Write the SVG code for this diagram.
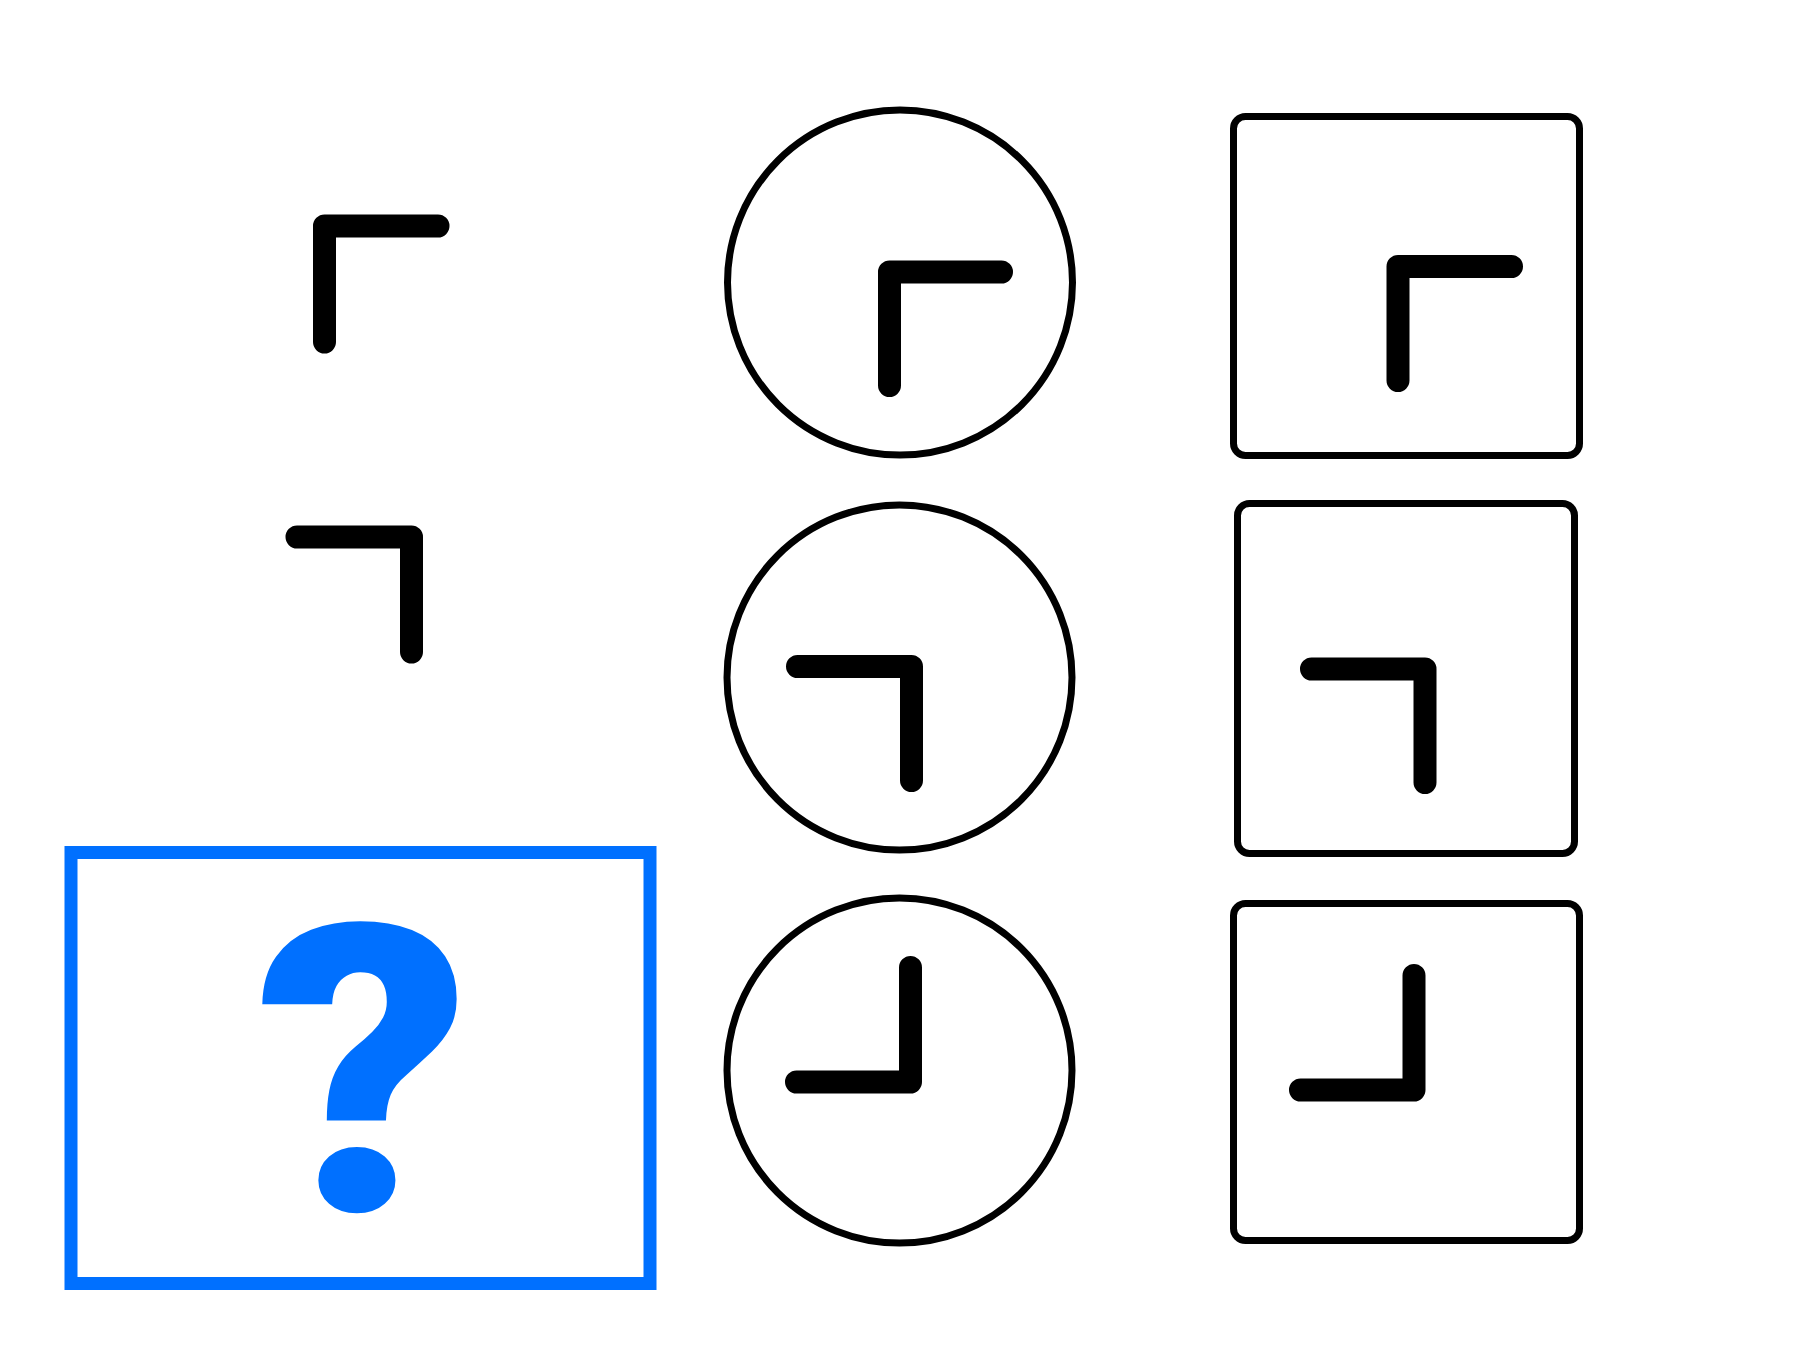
<svg xmlns="http://www.w3.org/2000/svg" width="1804" height="1352" viewBox="0 0 1804 1352">
  <style>
    .frame { fill: #ffffff; stroke: #000000; stroke-width: 7; }
    .hand { fill: none; stroke: #000000; stroke-width: 23; stroke-linecap: round; stroke-linejoin: round; }
    .answer { fill: #ffffff; stroke: #0070ff; stroke-width: 13; }
    .qmark { fill: #0070ff; font-family: Roboto, "Liberation Sans", sans-serif; font-weight: 900; font-size: 402px; }
  </style>
  <rect x="0" y="0" width="1804" height="1352" fill="#ffffff"/>

  <g id="connectors"></g>

  <!-- Row 1 -->
  <g id="r1c1">
    <path class="hand" d="M 324.5 342 L 324.5 226 L 438 226"/>
  </g>
  <g id="r1c2">
    <circle class="frame" cx="900" cy="282.5" r="172.5"/>
    <path class="hand" d="M 889.5 385.5 L 889.5 272 L 1001.5 272"/>
  </g>
  <g id="r1c3">
    <rect class="frame" x="1233.5" y="116.5" width="346" height="339" rx="12"/>
    <path class="hand" d="M 1398 380.5 L 1398 266.5 L 1511.5 266.5"/>
  </g>

  <!-- Row 2 -->
  <g id="r2c1">
    <path class="hand" d="M 297 537 L 411.5 537 L 411.5 652"/>
  </g>
  <g id="r2c2">
    <circle class="frame" cx="899.5" cy="677.5" r="172.5"/>
    <path class="hand" d="M 797.5 666.5 L 911.5 666.5 L 911.5 780.5"/>
  </g>
  <g id="r2c3">
    <rect class="frame" x="1237.5" y="503.5" width="337" height="350" rx="12"/>
    <path class="hand" d="M 1311.5 669 L 1425 669 L 1425 782.5"/>
  </g>

  <!-- Row 3 -->
  <g id="r3c1">
    <rect class="answer" x="71" y="852.5" width="579" height="431"/>
    <text class="qmark" x="0" y="0" text-anchor="middle" transform="translate(363.5 1211) scale(1.05 1)">?</text>
  </g>
  <g id="r3c2">
    <circle class="frame" cx="899.5" cy="1070.5" r="172.5"/>
    <path class="hand" d="M 910.5 967.5 L 910.5 1082 L 796.5 1082"/>
  </g>
  <g id="r3c3">
    <rect class="frame" x="1233.5" y="903.5" width="346" height="337" rx="12"/>
    <path class="hand" d="M 1414 975.5 L 1414 1090 L 1300.5 1090"/>
  </g>
</svg>
